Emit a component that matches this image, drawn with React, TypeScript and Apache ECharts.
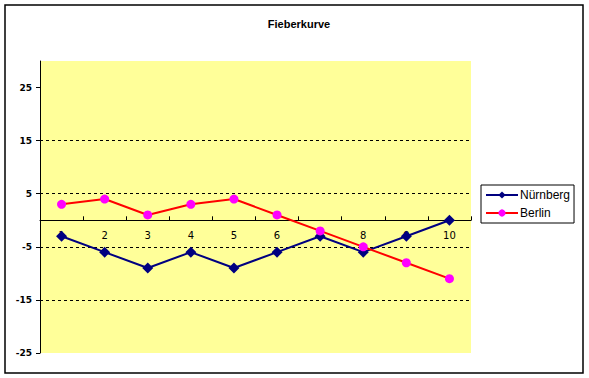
import React, { useEffect, useRef } from "react";
import * as echarts from "echarts";

const categories = ["1", "2", "3", "4", "5", "6", "7", "8", "9", "10"];
const nuernberg = [-3, -6, -9, -6, -9, -6, -3, -6, -3, 0];
const berlin = [3, 4, 1, 3, 4, 1, -2, -5, -8, -11];
const yTicks = [-25, -15, -5, 5, 15, 25];

export default function App() {
  const ref = useRef<HTMLDivElement>(null);
  useEffect(() => {
    const chart = echarts.init(ref.current!, null, { renderer: "svg" });
    const font = "Tahoma, 'DejaVu Sans', sans-serif";
    chart.setOption({
      animation: false,
      backgroundColor: "#ffffff",
      title: {
        text: "Fieberkurve",
        left: 294,
        top: 13,
        textAlign: "center",
        textStyle: { fontFamily: "'Liberation Sans', Arial, sans-serif", fontSize: 11, fontWeight: "bold", color: "#000" },
      },
      graphic: [
        {
          type: "rect",
          shape: { x: 5, y: 5, width: 578, height: 368 },
          style: { fill: "none", stroke: "#000", lineWidth: 1.5 },
          z: 100,
        },
      ],
      legend: {
        orient: "vertical",
        left: 481,
        top: 185,
        width: 98,
        padding: [4, 4, 4, 4],
        borderColor: "#000",
        borderWidth: 1,
        itemWidth: 32,
        itemHeight: 9,
        itemGap: 6,
        textStyle: { fontFamily: "'Liberation Sans', Arial, sans-serif", fontSize: 12, color: "#000", padding: [0, 0, 0, -3] },
        data: ["Nürnberg", "Berlin"],
      },
      grid: { left: 40, top: 61, width: 431, height: 292, backgroundColor: "#FFFF99", show: true, borderWidth: 0 },
      xAxis: {
        type: "category",
        data: categories,
        boundaryGap: true,
        position: "bottom",
        offset: -132.7,
        axisLine: { onZero: false, lineStyle: { color: "#000", width: 1 } },
        axisTick: { show: true, inside: true, length: 4, alignWithLabel: false, lineStyle: { color: "#000" } },
        axisLabel: { color: "#000", fontFamily: font, fontSize: 10, margin: 10 },
        splitLine: { show: false },
      },
      yAxis: {
        type: "value",
        min: -25,
        max: 30,
        interval: 10,
        axisLine: { show: true, lineStyle: { color: "#000", width: 1 } },
        axisTick: { show: true, length: 4, lineStyle: { color: "#000" }, customValues: yTicks },
        axisLabel: { color: "#000", fontFamily: font, fontSize: 9, fontWeight: "bold", margin: 8, customValues: yTicks },
        splitLine: {
          show: true,
          showMinLine: false,
          showMaxLine: false,
          lineStyle: { color: "#000", type: [3, 3], width: 1 },
        },
      },
      series: [
        {
          name: "Nürnberg",
          type: "line",
          data: nuernberg,
          symbol: "diamond",
          symbolSize: 11,
          lineStyle: { color: "#000080", width: 2 },
          itemStyle: { color: "#000080" },
          z: 3,
        },
        {
          name: "Berlin",
          type: "line",
          data: berlin,
          symbol: "circle",
          symbolSize: 9,
          lineStyle: { color: "#FF0000", width: 2 },
          itemStyle: { color: "#FF00FF" },
          z: 4,
        },
      ],
    });
    return () => chart.dispose();
  }, []);
  return (
    <div
      ref={ref}
      style={{ position: "absolute", left: 0, top: 0, width: 589, height: 378 }}
    />
  );
}
